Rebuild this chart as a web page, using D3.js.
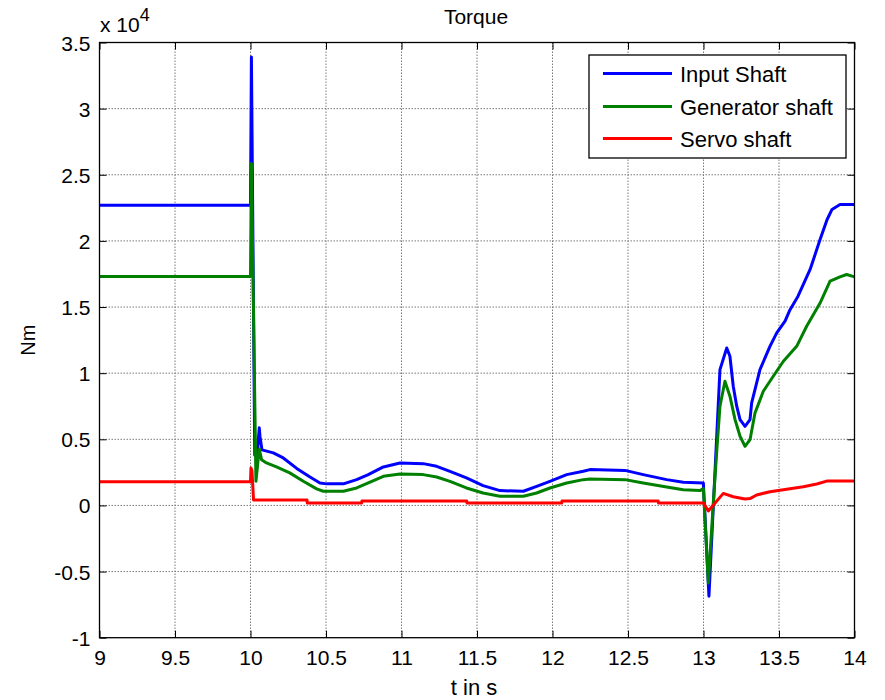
<!DOCTYPE html>
<html>
<head>
<meta charset="utf-8">
<script src="https://cdn.jsdelivr.net/npm/d3@7"></script>
<style>
  html, body { margin: 0; padding: 0; background: #fff; }
  svg { display: block; }
  text { font-family: "Liberation Sans", Arial, sans-serif; fill: #000; }
</style>
</head>
<body>
<svg id="chart" width="885" height="700"></svg>
<script>
// ---------- data ----------
const xTicks = [9, 9.5, 10, 10.5, 11, 11.5, 12, 12.5, 13, 13.5, 14];
const yTicks = [-10000, -5000, 0, 5000, 10000, 15000, 20000, 25000, 30000, 35000];
const yTickLabels = ["-1", "-0.5", "0", "0.5", "1", "1.5", "2", "2.5", "3", "3.5"];
const seriesNames = ["Input Shaft", "Generator shaft", "Servo shaft"];

const tInput = [9, 10.0, 10.006, 10.028, 10.045, 10.058, 10.063, 10.076, 10.151, 10.217, 10.306, 10.394,
  10.46, 10.505, 10.615, 10.703, 10.78, 10.88, 10.99, 11.144, 11.233, 11.321, 11.43, 11.54, 11.652,
  11.807, 11.895, 11.983, 12.094, 12.204, 12.248, 12.48, 12.601, 12.756, 12.866, 12.999, 13.036,
  13.109, 13.154, 13.175, 13.197, 13.22, 13.242, 13.275, 13.308, 13.319, 13.374, 13.44, 13.485,
  13.54, 13.573, 13.626, 13.706, 13.772, 13.818, 13.851, 13.904, 14.0];
const inputShaft = [22700, 22700, 33900, 3800, 3900, 5870, 5200, 4200, 3970, 3590, 2800, 2150,
  1700, 1630, 1630, 1950, 2330, 2910, 3210, 3160, 2960, 2580, 2080, 1500, 1120,
  1070, 1440, 1820, 2330, 2580, 2710, 2650, 2330, 1950, 1750, 1700, -6870,
  10270, 11900, 11280, 9010, 7500, 6490, 5980, 6490, 7750, 10270, 12030, 13050,
  13930, 14800, 15820, 17840, 20100, 21600, 22380, 22750, 22750];

const tGenerator = [9, 10.0, 10.006, 10.036, 10.058, 10.073, 10.106, 10.172, 10.26, 10.35, 10.438,
  10.482, 10.615, 10.703, 10.78, 10.88, 10.99, 11.144, 11.233, 11.321, 11.43, 11.54, 11.652, 11.807,
  11.895, 11.983, 12.094, 12.204, 12.248, 12.48, 12.601, 12.756, 12.866, 12.977, 12.999, 13.032,
  13.065, 13.087, 13.109, 13.142, 13.175, 13.209, 13.242, 13.275, 13.308, 13.341, 13.396, 13.462,
  13.529, 13.617, 13.683, 13.772, 13.838, 13.904, 13.948, 14.0];
const generatorShaft = [17300, 17300, 25850, 1830, 4270, 3460, 3210, 2910, 2460, 1830, 1250,
  1070, 1070, 1320, 1700, 2200, 2380, 2330, 2150, 1820, 1320, 940, 690, 690,
  940, 1320, 1700, 1950, 2000, 1950, 1700, 1400, 1190, 1120, 1270, -5860,
  190, 3970, 7500, 9390, 8260, 6490, 5230, 4470, 4970, 6990, 8630, 9770,
  10900, 12030, 13550, 15300, 16950, 17280, 17460, 17280];

const tServo = [9, 10.0, 10.003, 10.01, 10.02, 10.374, 10.376, 10.736, 10.738, 11.432, 11.434,
  12.061, 12.063, 12.70, 12.702, 13.0, 13.032, 13.131, 13.197, 13.275, 13.308, 13.352, 13.44,
  13.551, 13.661, 13.75, 13.816, 14.0];
const servoShaft = [1800, 1800, 2830, 2600, 420, 420, 180, 180, 330, 330, 180,
  180, 330, 330, 180, 180, -420, 910, 660, 480, 520, 790, 1040,
  1220, 1410, 1620, 1840, 1840];

// ---------- layout ----------
const svg = d3.select("#chart");
const pL = 99.5, pR = 854.5, pT = 42.5, pB = 637.7;
const x = d3.scaleLinear().domain([9, 14]).range([pL, pR]);
const y = d3.scaleLinear().domain([-10000, 35000]).range([pB, pT]);
const fontTick = 21;

// grid
const grid = svg.append("g");
grid.selectAll("line.gx").data(xTicks.slice(1, -1)).join("line")
  .attr("x1", d => x(d)).attr("x2", d => x(d)).attr("y1", pT).attr("y2", pB)
  .attr("stroke", "#7a7a7a").attr("stroke-width", 1).attr("stroke-dasharray", "1.5,1.5");
grid.selectAll("line.gy").data(yTicks.slice(1, -1)).join("line")
  .attr("y1", d => y(d)).attr("y2", d => y(d)).attr("x1", pL).attr("x2", pR)
  .attr("stroke", "#7a7a7a").attr("stroke-width", 1).attr("stroke-dasharray", "1.5,1.5");

// lines
const line = d3.line().x(d => x(d[0])).y(d => y(d[1]));
const series = [
  { t: tInput, v: inputShaft, color: "#0000ff" },
  { t: tGenerator, v: generatorShaft, color: "#008000" },
  { t: tServo, v: servoShaft, color: "#ff0000" }
];
svg.append("g").selectAll("path").data(series).join("path")
  .attr("d", s => line(s.t.map((t, i) => [t, s.v[i]])))
  .attr("fill", "none").attr("stroke", s => s.color)
  .attr("stroke-width", 3).attr("stroke-linejoin", "round");

// axes with inward ticks
const tickLen = 7;
const axB = svg.append("g").attr("transform", `translate(0,${pB})`)
  .call(d3.axisBottom(x).tickValues(xTicks).tickSize(-tickLen).tickPadding(12).tickFormat(d3.format("")));
const axT = svg.append("g").attr("transform", `translate(0,${pT})`)
  .call(d3.axisTop(x).tickValues(xTicks).tickSize(-tickLen).tickFormat(""));
const axL = svg.append("g").attr("transform", `translate(${pL},0)`)
  .call(d3.axisLeft(y).tickValues(yTicks).tickSize(-tickLen).tickPadding(9)
    .tickFormat((d, i) => yTickLabels[i]));
const axR = svg.append("g").attr("transform", `translate(${pR},0)`)
  .call(d3.axisRight(y).tickValues(yTicks).tickSize(-tickLen).tickFormat(""));
[axB, axT, axL, axR].forEach(a => {
  a.select(".domain").remove();
  a.selectAll(".tick line").attr("stroke", "#000").attr("stroke-width", 1);
  a.selectAll("text").attr("font-size", fontTick)
    .attr("font-family", "'Liberation Sans', Arial, sans-serif").attr("fill", "#000");
});
axB.selectAll("text").attr("dy", "0.71em");
axL.selectAll("text").attr("dy", "0.36em");

// box
svg.append("rect").attr("x", pL).attr("y", pT).attr("width", pR - pL).attr("height", pB - pT)
  .attr("fill", "none").attr("stroke", "#000").attr("stroke-width", 1.3);

// exponent label
const expo = svg.append("text").attr("x", 100).attr("y", 32).attr("font-size", fontTick);
expo.append("tspan").text("x 10");
expo.append("tspan").attr("dy", -11).attr("font-size", 18).text("4");

// title & axis labels
svg.append("text").attr("x", 476).attr("y", 24).attr("text-anchor", "middle")
  .attr("font-size", 21).text("Torque");
svg.append("text").attr("x", 474).attr("y", 695).attr("text-anchor", "middle")
  .attr("font-size", 22).text("t in s");
svg.append("text").attr("transform", `translate(35,${(pT + pB) / 2}) rotate(-90)`)
  .attr("text-anchor", "middle").attr("font-size", 20).text("Nm");

// legend
const lg = svg.append("g");
lg.append("rect").attr("x", 589).attr("y", 55).attr("width", 257).attr("height", 103)
  .attr("fill", "#fff").attr("stroke", "#000").attr("stroke-width", 1.3);
const rowY = [73.5, 106.5, 138.5];
seriesNames.forEach((name, i) => {
  lg.append("line").attr("x1", 603).attr("x2", 672).attr("y1", rowY[i]).attr("y2", rowY[i])
    .attr("stroke", series[i].color).attr("stroke-width", 3);
  lg.append("text").attr("x", 680).attr("y", rowY[i] + 8).attr("font-size", 22).text(name);
});
</script>
</body>
</html>
